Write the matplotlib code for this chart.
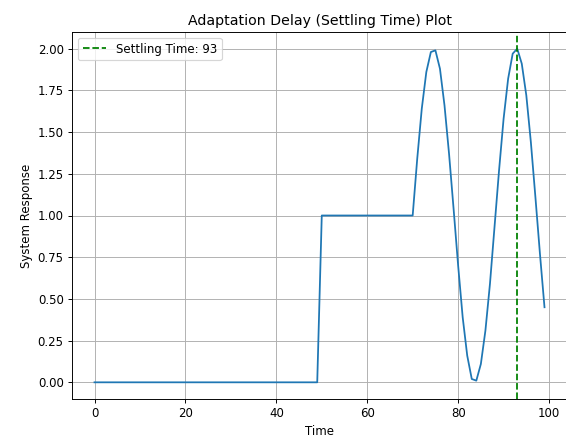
import matplotlib
matplotlib.use("Agg")
import matplotlib.pyplot as plt
import numpy as np

time = list(range(100))
# response: 0 before step, 1 plateau, then oscillation
zeros_part = [0.0] * 50
plateau_part = [1.0] * 20
oscillation_part = [1.00, 1.34, 1.64, 1.86, 1.98, 1.99, 1.88, 1.66, 1.37, 1.04,
                    0.70, 0.39, 0.16, 0.02, 0.01, 0.11, 0.31, 0.59, 0.93, 1.27,
                    1.58, 1.82, 1.97, 2.00, 1.91, 1.72, 1.44, 1.11, 0.77, 0.45]
response = zeros_part + plateau_part + oscillation_part
settling_time = 93

DPI = 85
fig, ax = plt.subplots(figsize=(566 / DPI, 440 / DPI), dpi=DPI)
ax.plot(time, response)
ax.axvline(settling_time, color='g', linestyle='--', label=f'Settling Time: {settling_time}')
ax.set_title('Adaptation Delay (Settling Time) Plot')
ax.set_xlabel('Time')
ax.set_ylabel('System Response')
ax.legend(loc='upper left')
ax.grid(True)
fig.subplots_adjust(left=72 / 566, right=567 / 566, bottom=1 - 399 / 440, top=1 - 32 / 440)
fig.savefig('out.png', dpi=DPI)
